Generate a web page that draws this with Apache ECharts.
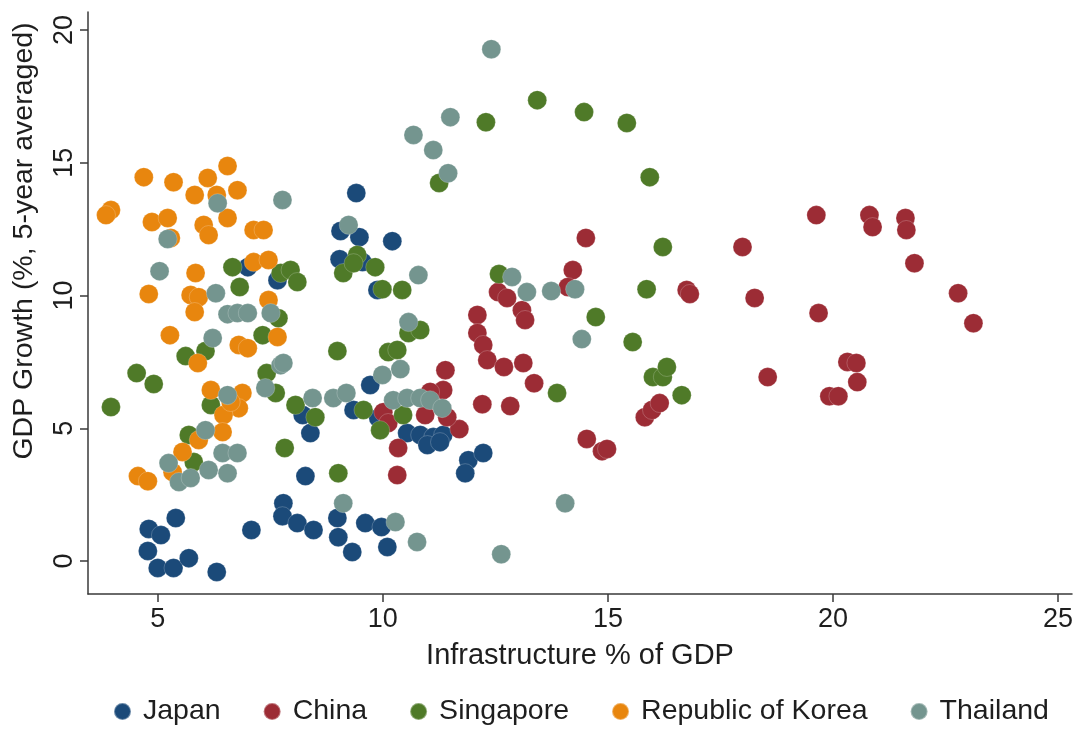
<!DOCTYPE html>
<html>
<head>
<meta charset="utf-8">
<script src="https://cdn.jsdelivr.net/npm/echarts@6/dist/echarts.min.js"></script>
<style>
html,body{margin:0;padding:0;background:#fff;}
#chart{width:1079px;height:729px;}
</style>
</head>
<body>
<div id="chart"></div>
<script>
const seriesNames = ['Japan', 'China', 'Singapore', 'Republic of Korea', 'Thailand'];
const seriesColors = ['#1b4a79', '#9c2c35', '#4f7a28', '#e8860e', '#74958f'];
const xTicks = [5, 10, 15, 20, 25];
const yTicks = [0, 5, 10, 15, 20];

const japan = [[9.41,13.86],[9.06,12.43],[9.48,12.20],[10.21,12.05],[9.04,11.37],[9.55,11.26],[9.88,10.21],
  [7.0,11.07],[7.66,10.58],[9.72,6.63],[9.35,5.69],[8.22,5.50],[8.39,4.82],[8.28,3.20],[9.90,5.39],
  [10.54,4.82],[10.83,4.75],[11.12,4.67],[11.34,4.75],[10.99,4.37],[11.27,4.48],[11.90,3.80],[12.23,4.07],[11.83,3.31],
  [5.40,1.62],[4.80,1.21],[5.07,0.98],[4.78,0.38],[5.0,-0.26],[5.35,-0.26],[5.69,0.11],[6.31,-0.41],[7.08,1.17],
  [7.79,2.18],[7.77,1.69],[8.10,1.43],[8.46,1.17],[8.99,1.62],[9.01,0.90],[9.32,0.34],[9.61,1.43],[9.97,1.28],[10.10,0.53]];

const china = [[14.51,12.17],[14.22,10.96],[14.11,10.32],[12.56,10.13],[12.76,9.91],[13.09,9.45],[13.16,9.08],
  [12.10,9.27],[12.10,8.59],[12.23,8.14],[12.32,7.57],[12.69,7.31],[13.12,7.46],[13.36,6.70],[11.39,7.19],[11.34,6.44],
  [11.05,6.37],[12.21,5.91],[12.83,5.84],[11.70,4.97],[11.43,5.42],[10.94,5.50],[10.01,5.61],[10.12,5.20],[10.34,4.26],
  [10.32,3.24],[14.53,4.60],[14.87,4.14],[14.98,4.22],[15.82,5.42],[15.98,5.69],[16.15,5.95],[17.99,11.83],[16.75,10.21],
  [16.82,10.06],[18.26,9.91],[18.55,6.93],[19.63,13.03],[20.81,13.03],[20.88,12.58],[21.61,12.92],[21.63,12.47],
  [21.81,11.22],[22.78,10.09],[23.12,8.96],[19.68,9.34],[20.32,7.50],[20.52,7.46],[20.54,6.74],[19.92,6.21],[20.12,6.21]];

const singapore = [[13.43,17.36],[14.47,16.91],[15.42,16.50],[12.29,16.53],[15.93,14.46],[11.25,14.24],[16.22,11.83],
  [12.58,10.81],[15.86,10.24],[14.73,9.19],[15.55,8.25],[16.0,6.93],[16.22,6.93],[16.31,7.31],[16.64,6.25],[13.87,6.33],
  [6.66,11.07],[6.82,10.32],[7.73,10.85],[7.95,10.96],[8.10,10.51],[9.12,10.85],[9.43,11.53],[9.35,11.22],[9.83,11.07],
  [9.99,10.24],[10.43,10.21],[7.68,9.15],[7.33,8.51],[5.62,7.72],[6.06,7.91],[4.53,7.08],[4.91,6.67],[3.96,5.80],
  [6.18,5.88],[7.42,7.08],[7.62,6.33],[8.06,5.88],[8.50,5.42],[7.82,4.26],[8.99,7.91],[9.01,3.31],[10.12,7.87],
  [10.32,7.95],[10.57,8.59],[10.83,8.70],[9.57,5.69],[9.94,4.93],[10.45,5.50],[5.69,4.75],[5.80,3.73]];

const korea = [[4.69,14.46],[5.35,14.27],[6.11,14.43],[6.55,14.88],[5.82,13.79],[6.31,13.79],[6.77,13.97],[3.96,13.22],
  [3.85,13.03],[4.87,12.77],[5.22,12.92],[5.29,12.17],[6.02,12.66],[6.13,12.28],[6.55,12.92],[7.13,12.47],[7.35,12.47],
  [7.13,11.26],[7.46,11.34],[5.84,10.85],[4.80,10.06],[5.73,10.02],[5.91,9.94],[5.82,9.38],[7.46,9.83],[5.27,8.51],
  [5.89,7.46],[6.18,6.44],[6.88,6.33],[6.80,5.76],[6.46,5.50],[6.44,4.86],[5.91,4.56],[5.55,4.11],[5.33,3.35],
  [4.56,3.20],[4.78,3.01],[7.66,8.44],[6.80,8.14],[7.00,8.02],[6.62,5.99]];

const thailand = [[12.41,19.28],[11.50,16.72],[11.12,15.48],[11.45,14.61],[10.68,16.05],[12.87,10.70],[13.20,10.13],
  [13.74,10.17],[14.27,10.24],[14.42,8.36],[14.05,2.18],[12.63,0.26],[7.77,13.60],[9.24,12.66],[6.33,13.48],[5.22,12.13],
  [5.04,10.92],[10.79,10.77],[6.29,10.09],[6.55,9.30],[6.77,9.34],[7.0,9.34],[7.51,9.34],[6.22,8.40],[7.73,7.38],
  [7.39,6.52],[6.55,6.25],[6.06,4.93],[5.24,3.69],[5.47,2.98],[5.73,3.13],[6.13,3.43],[6.44,4.07],[6.77,4.07],[6.55,3.31],
  [7.79,7.46],[8.44,6.14],[8.90,6.14],[9.19,6.33],[9.99,7.01],[10.39,7.23],[10.57,9.00],[10.23,6.06],[10.54,6.14],
  [10.83,6.14],[11.05,6.06],[11.32,5.76],[9.12,2.18],[10.28,1.47],[10.76,0.72]];

const allData = [japan, china, singapore, korea, thailand];
const FONT = '"Liberation Sans", Arial, sans-serif';
const TXT = '#1e1e1e';

const chart = echarts.init(document.getElementById('chart'), null, {renderer: 'canvas'});
chart.setOption({
  animation: false,
  backgroundColor: '#ffffff',
  textStyle: {fontFamily: FONT},
  grid: {left: 88, right: 7, top: 12, bottom: 135, containLabel: false},
  xAxis: {
    type: 'value', min: 3.45, max: 25.31,
    name: 'Infrastructure % of GDP', nameLocation: 'middle', nameGap: 47,
    nameTextStyle: {fontSize: 29, color: TXT, fontFamily: FONT},
    axisLine: {show: true, onZero: false, lineStyle: {color: '#3a3a3a', width: 1.5}},
    axisTick: {show: true, inside: false, length: 8, lineStyle: {color: '#3a3a3a', width: 1.5}, customValues: xTicks},
    axisLabel: {fontSize: 27, color: TXT, margin: 12, fontFamily: FONT, customValues: xTicks},
    splitLine: {show: false}
  },
  yAxis: {
    type: 'value', min: -1.24, max: 20.68,
    axisLine: {show: true, onZero: false, lineStyle: {color: '#3a3a3a', width: 1.5}},
    axisTick: {show: true, inside: false, length: 8, lineStyle: {color: '#3a3a3a', width: 1.5}, customValues: yTicks},
    axisLabel: {fontSize: 27, color: TXT, margin: 10, rotate: 90, fontFamily: FONT, customValues: yTicks},
    splitLine: {show: false}
  },
  legend: {
    show: true, left: 108, bottom: -2, orient: 'horizontal',
    icon: 'circle', itemWidth: 17, itemHeight: 17, itemGap: 42,
    textStyle: {fontSize: 28.5, color: TXT, fontFamily: FONT, padding: [0, 0, 0, 7]},
    data: seriesNames
  },
  graphic: [{
    type: 'text', x: 24, y: 241, rotation: Math.PI / 2,
    style: {text: 'GDP Growth (%, 5-year averaged)', fontSize: 28.5, fill: TXT, fontFamily: FONT,
      textAlign: 'center', textVerticalAlign: 'middle'}
  }],
  series: seriesNames.map((n, i) => ({
    name: n, type: 'scatter', data: allData[i], symbol: 'circle', symbolSize: 19,
    itemStyle: {color: seriesColors[i], opacity: 1, borderColor: 'rgba(255,255,255,0.35)', borderWidth: 0.6},
    emphasis: {disabled: true}, z: 2 + i
  }))
});
</script>
</body>
</html>
